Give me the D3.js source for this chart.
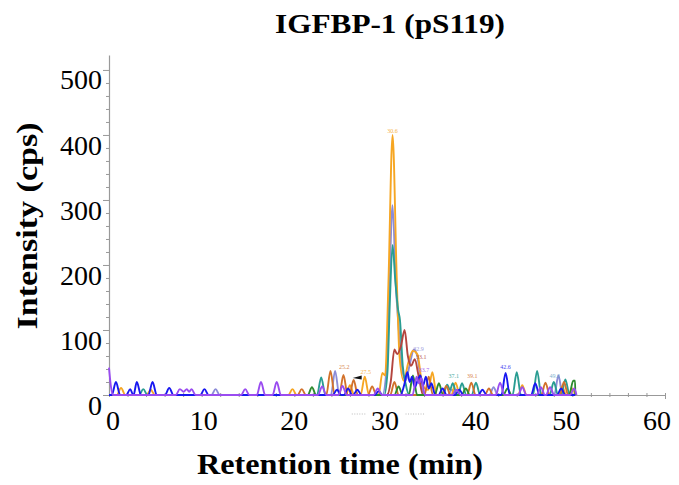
<!DOCTYPE html>
<html lang="en">
<head>
<meta charset="utf-8">
<title>IGFBP-1 (pS119)</title>
<script src="https://d3js.org/d3.v7.min.js"></script>
<style>
  body { margin: 0; background: #fff; }
  text { font-family: "Liberation Serif", "Times New Roman", serif; }
</style>
</head>
<body>
<script>

// Width and height
var w = 679;
var h = 485;

var xTicks = [0, 10, 20, 30, 40, 50, 60];
var yTicks = [0, 100, 200, 300, 400, 500];

// each trace: [retention time (min), intensity (cps)]
var lavender = [[0,0],[11.05,0],[11.5,9],[11.95,0],[23.95,0],[24.4,37],[24.85,0],
  [29.5,0],[29.95,40],[30.25,165],[30.6,292],[30.95,170],[31.25,105],[31.6,45],[32.0,22],
  [32.5,50],[32.9,70],[33.3,58],[33.7,15],[34.1,0],[36.55,0],[37.0,8],[37.45,0],
  [41.05,0],[41.5,12],[41.95,0],[48.05,0],[48.5,30],[48.95,0],[50.3,0]];

var orange = [[0,0],[0.85,0],[1.3,11],[1.75,0],[4.05,0],[4.5,8],[4.95,0],[19.35,0],
  [19.8,9],[20.25,0],[25.55,0],[26.0,15],[26.45,0],[27.15,0],[27.6,28],[28.05,0],
  [29.1,0],[29.5,34],[29.8,30],[30.15,170],[30.6,400],[31.05,180],[31.35,60],[31.8,22],
  [32.3,50],[32.8,68],[33.3,62],[33.7,25],[34.1,10],[34.45,8],[34.9,35],[35.35,0],
  [36.95,0],[37.4,19],[37.85,0],[44.15,0],[44.6,15],[45.05,0],[48.45,0],[48.9,13],
  [49.35,0],[49.6,0],[50.0,10],[50.3,0]];

var teal = [[0,0],[3.25,0],[3.7,9],[4.15,0],[22.45,0],[22.9,27],[23.35,0],[29.7,0],
  [30.05,35],[30.3,140],[30.6,231],[30.9,175],[31.2,131],[31.4,115],[31.7,45],[32.0,18],
  [32.4,0],[36.05,0],[36.5,16],[36.8,8],[37.1,18],[37.55,0],[37.65,0],[38.1,18],[38.55,0],
  [39.15,0],[39.6,19],[40.05,0],[43.55,0],[44.0,35],[44.45,0],[45.75,0],[46.2,37],[46.65,0],
  [47.55,0],[48.0,20],[48.45,0],[48.8,0],[49.25,24],[49.7,0],[50.3,0]];

var firebrick = [[0,0],[30.0,0],[30.4,20],[30.8,70],[31.1,63],[31.5,75],[31.9,100],
  [32.25,60],[32.6,45],[33.0,55],[33.4,30],[33.9,0],[50.3,0]];

var chocolate = [[0,0],[20.35,0],[20.8,9],[21.25,0],[23.45,0],[23.9,37],[24.35,0],
  [24.85,0],[25.3,31],[25.75,0],[25.95,0],[26.4,23],[26.85,0],[27.95,0],[28.4,13],
  [28.85,0],[30.35,0],[30.8,20],[31.25,0],[34.05,0],[34.5,28],[34.95,0],[35.95,0],[36.4,14],
  [36.85,0],[38.65,0],[39.1,19],[39.55,0],[40.55,0],[41.0,10],[41.45,0],[46.65,0],
  [47.1,19],[47.55,0],[48.65,0],[49.1,20],[49.55,0],[50.3,0]];

var green = [[0,0],[21.45,0],[21.9,12],[22.35,0],[30.8,0],[31.25,13],[31.7,0],[32.35,0],
  [32.8,30],[33.25,0],[35.15,0],[35.6,18],[36.05,0],[38.05,0],[38.5,10],[38.95,0],
  [42.55,0],[43.0,10],[43.45,0],[49.65,0],[50.1,22],[50.3,22],[50.32,0]];

var blue = [[0,0],[0.3,0],[0.75,20],[1.2,0],[1.85,0],[2.3,9],[2.6,0],[2.65,0],[3.0,20],
  [3.45,0],[4.25,0],[4.7,20],[5.15,0],[6.05,0],[6.5,11],[6.95,0],[9.85,0],[10.3,9],
  [10.75,0],[24.15,0],[24.6,8],[25.05,0],[25.35,0],[25.8,10],[26.25,0],[26.35,0],
  [26.8,8],[27.25,0],[28.7,0],[29.1,6],[29.5,0],[31.45,0],[31.85,15],[32.2,35],[32.45,20],
  [32.7,28],[33.0,12],[33.3,22],[33.6,30],[33.9,15],[34.2,28],[34.5,10],[34.8,18],
  [35.2,0],[35.55,0],[36.0,10],[36.45,0],[37.35,0],[37.8,8],[38.25,0],[39.85,0],[40.3,8],
  [40.75,0],[42.35,0],[42.8,34],[43.25,0],[45.55,0],[46.0,18],[46.45,0],[48.35,0],[48.8,10],
  [49.25,0],[50.3,0]];

var violet = [[0,42],[0.15,20],[0.4,0],[7.2,0],[7.65,9],[8.05,5],[8.4,9],[8.65,5],
  [8.9,9],[9.35,0],[14.25,0],[14.7,9],[15.15,0],[15.95,0],[16.4,20],[16.85,0],[17.65,0],
  [18.1,20],[18.55,0],[22.55,0],[23.0,13],[23.45,0],[24.75,0],[25.2,14],[25.65,0],
  [28.55,0],[29.0,10],[29.45,0],[32.75,0],[33.2,28],[33.45,18],[33.7,26],[34.1,0],
  [37.05,0],[37.5,8],[37.95,0],[41.75,0],[42.2,19],[42.65,0],[44.15,0],[44.6,12],
  [45.05,0],[46.15,0],[46.6,12],[47.05,0],[47.15,0],[47.6,12],[48.05,0],[49.75,0],
  [50.2,10],[50.45,0]];

var traces = [lavender, orange, teal, firebrick, chocolate, green, blue, violet];
var traceColors = ["#8c8cd8", "#f6a623", "#2a9d92", "#b4453e", "#d2722c", "#2e8b2e", "#1818f0", "#9a4cf0"];

// small apex annotations: [time, intensity, text]
var peakLabels = [[30.6, 403, "30.6"], [25.4, 40, "25.2"], [27.7, 33, "27.5"],
  [33.4, 67, "32.9"], [33.7, 56, "33.1"], [34.0, 35, "33.7"], [37.2, 26, "37.1"],
  [39.2, 26, "39.1"], [42.8, 40, "42.6"], [48.1, 26, "49.0"]];
var peakLabelColors = ["#f6a623", "#d2722c", "#f6a623", "#8c8cd8", "#b4453e",
  "#9a4cf0", "#2a9d92", "#d2722c", "#1818f0", "#6aa6c8"];

// Create SVG element
var svg = d3.select("body")
  .append("svg")
  .attr("width", w)
  .attr("height", h);

var x = d3.scaleLinear().domain([0, 60]).range([109, 665]);
var y = d3.scaleLinear().domain([0, 523]).range([395, 55]);
// tick labels in the figure drift a little left of their ticks
var xLabel = d3.scaleLinear().domain([0, 60]).range([113, 657]);

// y axis: major ticks every 100, minor every 20
var yAxis = svg.append("g")
  .attr("transform", "translate(" + x(0) + ",0)")
  .call(d3.axisLeft(y).tickValues(d3.range(0, 501, 20)).tickSizeInner(6).tickSizeOuter(0).tickPadding(1)
    .tickFormat(function(d) { return yTicks.indexOf(d) >= 0 ? d : ""; }));
yAxis.select(".domain").attr("stroke", "#999").attr("stroke-width", 1.2);
yAxis.selectAll(".tick line")
  .attr("stroke", "#999")
  .attr("x2", function(d) { return d % 100 === 0 ? -6 : -3; });
yAxis.selectAll(".tick text")
  .attr("dy", "0.68em")
  .attr("font-size", "28px")
  .attr("font-family", "Liberation Serif, serif")
  .attr("fill", "#000");

// x axis: small ticks every 2 min
var xAxis = svg.append("g")
  .attr("transform", "translate(0," + y(0) + ")")
  .call(d3.axisBottom(x).tickValues(d3.range(0, 61, 2)).tickSizeInner(2).tickSizeOuter(0).tickFormat(""));
xAxis.select(".domain").attr("stroke", "#999").attr("stroke-width", 1.2);
xAxis.selectAll(".tick line")
  .attr("stroke", "#999")
  .attr("y1", -2)
  .attr("y2", function(d) { return d === 60 ? 4 : 2; });

svg.append("g").selectAll("text")
  .data(xTicks)
  .enter()
  .append("text")
  .attr("x", function(d) { return xLabel(d); })
  .attr("y", y(0) + 35)
  .attr("text-anchor", "middle")
  .attr("font-size", "28px")
  .text(function(d) { return d; });

// faint dotted marks under the x axis
svg.append("g").selectAll("line")
  .data([[26.2, 27.8], [32.0, 34.0]])
  .enter()
  .append("line")
  .attr("x1", function(d) { return x(d[0]); })
  .attr("x2", function(d) { return x(d[1]); })
  .attr("y1", y(0) + 19)
  .attr("y2", y(0) + 19)
  .attr("stroke", "#aaa")
  .attr("stroke-width", 0.8)
  .attr("stroke-dasharray", "1,1.5");

// chromatogram traces
var line = d3.line()
  .x(function(d) { return x(d[0]); })
  .y(function(d) { return y(d[1]); })
  .curve(d3.curveMonotoneX);

svg.append("g").selectAll("path")
  .data(traces)
  .enter()
  .append("path")
  .attr("d", line)
  .attr("fill", "none")
  .attr("stroke", function(d, i) { return traceColors[i]; })
  .attr("stroke-width", 1.9)
  .attr("stroke-linejoin", "round");

// apex labels
svg.append("g").selectAll("text")
  .data(peakLabels)
  .enter()
  .append("text")
  .attr("x", function(d) { return x(d[0]); })
  .attr("y", function(d) { return y(d[1]); })
  .attr("text-anchor", "middle")
  .attr("font-family", "Liberation Sans, sans-serif")
  .attr("font-size", "6px")
  .attr("fill", function(d, i) { return peakLabelColors[i]; })
  .attr("opacity", 0.85)
  .text(function(d) { return d[2]; });

// small black arrow marker pointing left
var tip = [26.3, 26];
svg.append("path")
  .attr("d", "M" + x(tip[0]) + "," + y(tip[1]) +
    "L" + (x(tip[0]) + 9) + "," + (y(tip[1]) - 2.5) +
    "L" + (x(tip[0]) + 9) + "," + (y(tip[1]) + 1.5) + "Z")
  .attr("fill", "#111");

// titles
svg.append("text")
  .attr("x", 390)
  .attr("y", 33)
  .attr("text-anchor", "middle")
  .attr("font-size", "28px")
  .attr("font-weight", "bold")
  .attr("textLength", 230)
  .attr("lengthAdjust", "spacingAndGlyphs")
  .text("IGFBP-1 (pS119)");

svg.append("text")
  .attr("x", 340)
  .attr("y", 474)
  .attr("text-anchor", "middle")
  .attr("font-size", "29px")
  .attr("font-weight", "bold")
  .attr("textLength", 286)
  .attr("lengthAdjust", "spacingAndGlyphs")
  .text("Retention time (min)");

svg.append("text")
  .attr("transform", "translate(37,226) rotate(-90)")
  .attr("text-anchor", "middle")
  .attr("font-size", "29px")
  .attr("font-weight", "bold")
  .attr("textLength", 207)
  .attr("lengthAdjust", "spacingAndGlyphs")
  .text("Intensity (cps)");

</script>
</body>
</html>
